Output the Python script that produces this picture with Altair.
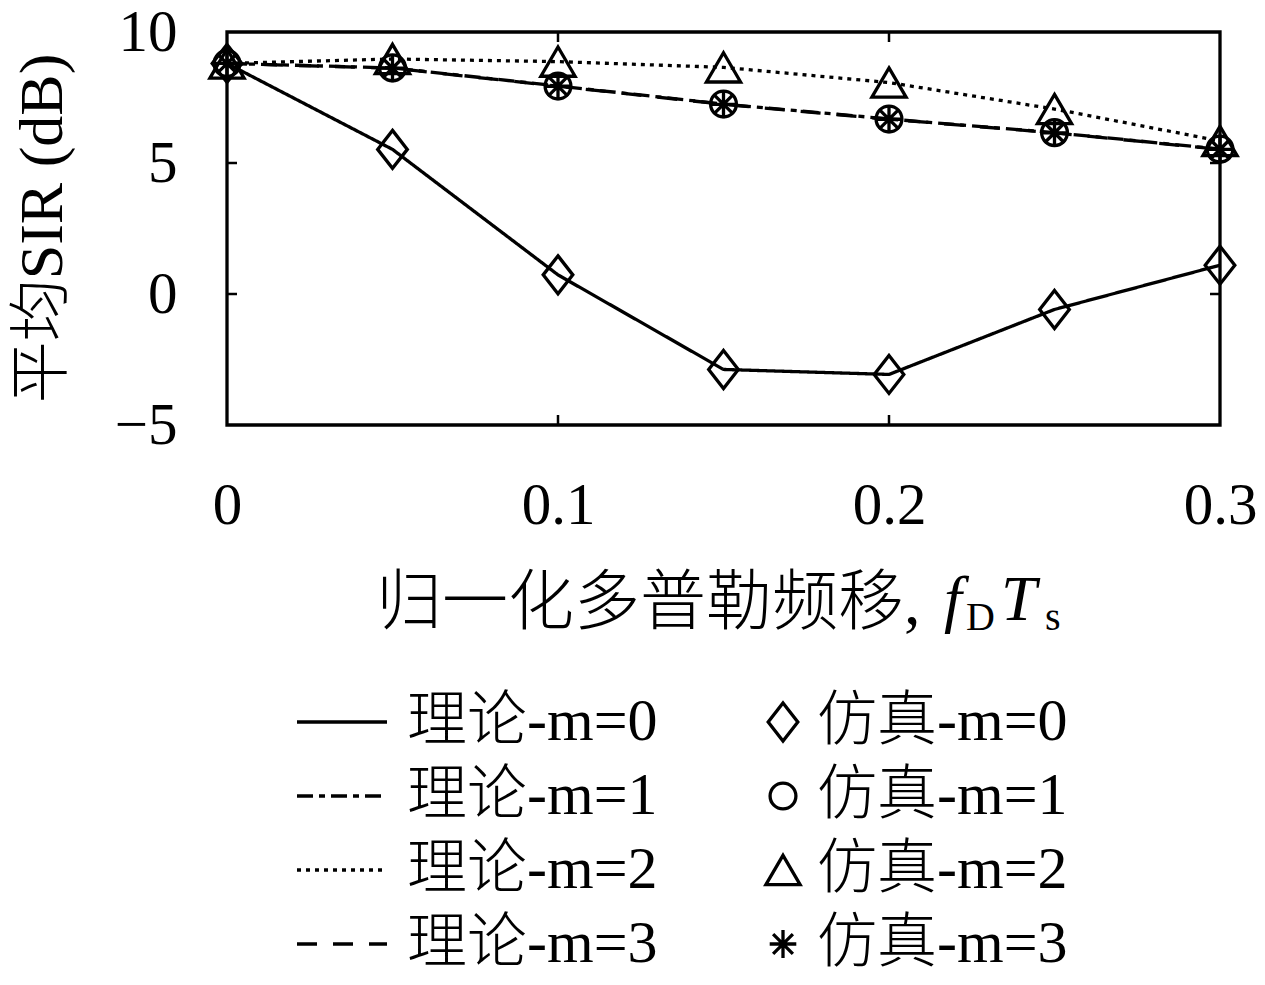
import altair as alt
import pandas as pd

# ---------------- data ----------------
X = [0.0, 0.05, 0.10, 0.15, 0.20, 0.25, 0.30]

THEORY_M0 = [8.8, 5.52, 0.73, -2.88, -3.07, -0.59, 1.10]
THEORY_M1 = [8.8, 8.63, 7.94, 7.25, 6.68, 6.16, 5.53]
THEORY_M2 = [8.8, 8.97, 8.87, 8.65, 8.07, 7.06, 5.84]
THEORY_M3 = [8.8, 8.62, 7.93, 7.24, 6.67, 6.15, 5.52]

SIM_M0 = [8.8, 5.52, 0.73, -2.88, -3.07, -0.59, 1.10]
SIM_M1 = [8.8, 8.63, 7.94, 7.25, 6.68, 6.16, 5.53]
SIM_M2 = [8.8, 8.97, 8.87, 8.65, 8.07, 7.06, 5.84]
SIM_M3 = [8.8, 8.62, 7.93, 7.24, 6.67, 6.15, 5.52]

THEORY_LABELS = ["理论-m=0", "理论-m=1", "理论-m=2", "理论-m=3"]
SIM_LABELS = ["仿真-m=0", "仿真-m=1", "仿真-m=2", "仿真-m=3"]

X_TICKS = [0, 0.1, 0.2, 0.3]
Y_TICKS = [-5, 0, 5, 10]
INNER_X_TICKS = [0.1, 0.2]
INNER_Y_TICKS = [0, 5]

Y_TITLE = "平均SIR (dB)"
X_TITLE_MAIN = "归一化多普勒频移,"
X_TITLE_F = "f"
X_TITLE_D = "D"
X_TITLE_T = "T"
X_TITLE_S = "s"

# ---------------- tables ----------------
theory_rows = []
for lab, ys in zip(THEORY_LABELS, [THEORY_M0, THEORY_M1, THEORY_M2, THEORY_M3]):
    for xv, yv in zip(X, ys):
        theory_rows.append({"x": xv, "v": yv, "theory": lab})
df_theory = pd.DataFrame(theory_rows)

sim_rows = []
for lab, ys in zip(SIM_LABELS, [SIM_M0, SIM_M1, SIM_M2, SIM_M3]):
    for xv, yv in zip(X, ys):
        sim_rows.append({"x": xv, "v": yv, "sim": lab})
df_sim = pd.DataFrame(sim_rows)

df_xt = pd.DataFrame({"x": INNER_X_TICKS})
df_yt = pd.DataFrame({"v": INNER_Y_TICKS})

# ---------------- styles ----------------
FONT = "Liberation Serif, Noto Sans CJK SC"
W, H = 993, 393
LW = 3.3

DASHES = [[1, 0], [16, 6, 6, 6], [4, 5], [20, 16]]
SHAPES = [
    "M0,-1L0.78,0L0,1L-0.78,0Z",
    "M0.68,0A0.68,0.68,0,1,1,-0.68,0A0.68,0.68,0,1,1,0.68,0Z",
    "M0,-0.77L0.9,0.77L-0.9,0.77Z",
    "M0,-0.74L0,0.74M-0.7,0L0.7,0M-0.52,-0.52L0.52,0.52M-0.52,0.52L0.52,-0.52",
]

xscale = alt.Scale(domain=[0, 0.3], nice=False, zero=False)
yscale = alt.Scale(domain=[-5, 10], nice=False, zero=False)

xaxis = alt.Axis(
    values=X_TICKS, format=".1~f", title=None, grid=False, domain=False,
    ticks=False, tickSize=0, labelFont=FONT, labelFontSize=59, labelColor="black",
    labelPadding=80, labelBaseline="middle", labelFlush=False, labelOverlap=False,
    labelFontWeight=300,
)
yaxis = alt.Axis(
    values=Y_TICKS, format="d", title=Y_TITLE, grid=False, domain=False,
    ticks=False, tickSize=0, labelFont=FONT, labelFontSize=59, labelColor="black",
    labelPadding=50, labelFlush=False, labelOverlap=False, labelFontWeight=300,
    titleFont=FONT, titleFontSize=62, titleFontWeight=300, titleColor="black",
    titleX=-185, titleY=196, titleAngle=270, titleAlign="center", titleBaseline="middle",
)

X_ENC = alt.X("x:Q", scale=xscale, axis=xaxis)
Y_ENC = alt.Y("v:Q", scale=yscale, axis=yaxis)

lines = alt.Chart(df_theory).mark_line(color="black", strokeWidth=LW).encode(
    x=X_ENC,
    y=Y_ENC,
    strokeDash=alt.StrokeDash(
        "theory:N",
        scale=alt.Scale(domain=THEORY_LABELS, range=DASHES),
        legend=alt.Legend(
            title=None, orient="none", legendX=68, legendY=660, direction="vertical",
            symbolType="stroke", symbolSize=8100, symbolStrokeWidth=LW,
            symbolStrokeColor="black", labelFont=FONT, labelFontSize=60,
            labelFontWeight=300, clipHeight=60,
            labelColor="black", labelOffset=18, labelLimit=600, rowPadding=14,
            padding=0,
        ),
    ),
)

points = alt.Chart(df_sim).mark_point(
    filled=False, color="black", strokeWidth=LW, size=1444, opacity=1
).encode(
    x=X_ENC,
    y=Y_ENC,
    shape=alt.Shape(
        "sim:N",
        scale=alt.Scale(domain=SIM_LABELS, range=SHAPES),
        legend=alt.Legend(
            title=None, orient="none", legendX=526, legendY=660, direction="vertical",
            symbolSize=1444, symbolStrokeWidth=LW, symbolStrokeColor="black",
            symbolFillColor="transparent", symbolOpacity=1, clipHeight=60,
            labelFont=FONT, labelFontSize=60, labelFontWeight=300,
            labelColor="black", labelOffset=4,
            labelLimit=600, rowPadding=14, padding=0,
        ),
    ),
)

tick_top = alt.Chart(df_xt).mark_rule(color="black", strokeWidth=2.5).encode(
    x=X_ENC, y=alt.value(0), y2=alt.value(10))
tick_bottom = alt.Chart(df_xt).mark_rule(color="black", strokeWidth=2.5).encode(
    x=X_ENC, y=alt.value(H), y2=alt.value(H - 10))
tick_left = alt.Chart(df_yt).mark_rule(color="black", strokeWidth=2.5).encode(
    y=Y_ENC, x=alt.value(0), x2=alt.value(10))
tick_right = alt.Chart(df_yt).mark_rule(color="black", strokeWidth=2.5).encode(
    y=Y_ENC, x=alt.value(W), x2=alt.value(W - 10))


def title_piece(txt, px, py, size, style="normal"):
    return alt.Chart(pd.DataFrame({"t": [txt]})).mark_text(
        font=FONT, fontSize=size, fontStyle=style, fontWeight=300, color="black",
        align="left", baseline="alphabetic",
    ).encode(text="t:N", x=alt.value(px), y=alt.value(py))


t_main = title_piece(X_TITLE_MAIN, 149, 592, 66)
t_f = title_piece(X_TITLE_F, 717, 588, 64, "italic")
t_d = title_piece(X_TITLE_D, 739, 598, 40)
t_t = title_piece(X_TITLE_T, 774, 588, 64, "italic")
t_s = title_piece(X_TITLE_S, 818, 598, 40)

chart = alt.layer(
    lines, points, tick_top, tick_bottom, tick_left, tick_right,
    t_main, t_f, t_d, t_t, t_s,
).resolve_legend(strokeDash="independent", shape="independent").properties(
    width=W, height=H,
    padding={"left": 219, "top": 24, "right": 37, "bottom": 552},
    autosize=alt.AutoSizeParams(type="none"),
    background="white",
).configure_view(stroke="black", strokeWidth=3.3)

chart.save("out.html", embed_options={"renderer": "svg", "actions": False})
